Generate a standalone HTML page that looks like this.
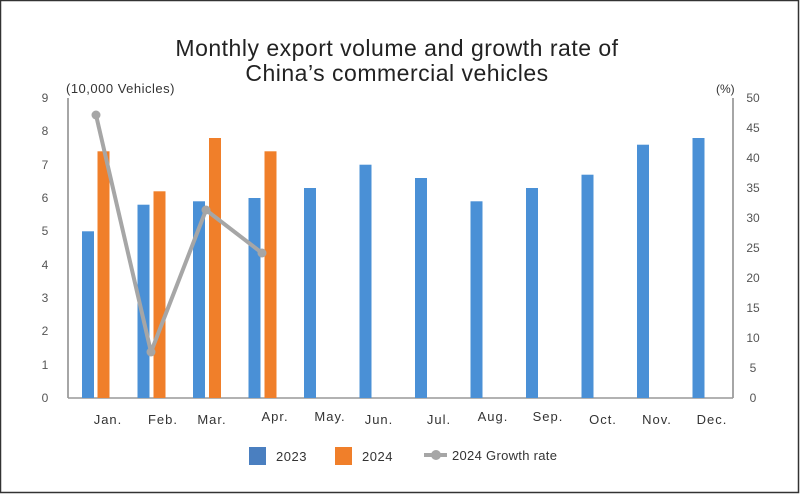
<!DOCTYPE html>
<html><head><meta charset="utf-8"><style>
html,body{margin:0;padding:0;background:#fff}
svg{display:block}
text{font-family:"Liberation Sans",sans-serif}
</style></head><body>
<svg width="800" height="494" viewBox="0 0 800 494">
<rect x="0.5" y="0.5" width="798" height="492" fill="#fff" stroke="#333" stroke-width="1.5"/>
<text x="397" y="56" font-size="23" text-anchor="middle" fill="#222" letter-spacing="0.5">Monthly export volume and growth rate of</text>
<text x="397" y="81" font-size="23" text-anchor="middle" fill="#222" letter-spacing="0.5">China’s commercial vehicles</text>
<text x="66" y="93" font-size="13" fill="#333" letter-spacing="0.5">(10,000 Vehicles)</text>
<text x="716" y="93" font-size="12" fill="#333">(%)</text>
<g font-size="12" fill="#555" text-anchor="middle">
<text x="45" y="102">9</text><text x="45" y="135">8</text><text x="45" y="169">7</text><text x="45" y="202">6</text><text x="45" y="235">5</text><text x="45" y="269">4</text><text x="45" y="302">3</text><text x="45" y="335">2</text><text x="45" y="369">1</text><text x="45" y="402">0</text>
</g>
<g font-size="12" fill="#555" text-anchor="middle">
<text x="753" y="102">50</text><text x="753" y="132">45</text><text x="753" y="162">40</text><text x="753" y="192">35</text><text x="753" y="222">30</text><text x="753" y="252">25</text><text x="753" y="282">20</text><text x="753" y="312">15</text><text x="753" y="342">10</text><text x="753" y="372">5</text><text x="753" y="402">0</text>
</g>
<line x1="68" y1="98" x2="68" y2="398" stroke="#888" stroke-width="1.5"/>
<line x1="733" y1="98" x2="733" y2="398" stroke="#888" stroke-width="1.5"/>
<line x1="68" y1="398" x2="733" y2="398" stroke="#999" stroke-width="1.5"/>
<g fill="#4a90d6">
<rect x="82" y="231.3" width="12" height="166.7"/>
<rect x="137.5" y="204.7" width="12" height="193.3"/>
<rect x="193" y="201.3" width="12" height="196.7"/>
<rect x="248.5" y="198" width="12" height="200"/>
<rect x="304" y="188" width="12" height="210"/>
<rect x="359.5" y="164.7" width="12" height="233.3"/>
<rect x="415" y="178" width="12" height="220"/>
<rect x="470.5" y="201.3" width="12" height="196.7"/>
<rect x="526" y="188" width="12" height="210"/>
<rect x="581.5" y="174.7" width="12" height="223.3"/>
<rect x="637" y="144.7" width="12" height="253.3"/>
<rect x="692.5" y="138" width="12" height="260"/>
</g>
<g fill="#f07f2a">
<rect x="97.5" y="151.3" width="12" height="246.7"/>
<rect x="153.5" y="191.3" width="12" height="206.7"/>
<rect x="209" y="138" width="12" height="260"/>
<rect x="264.5" y="151.3" width="12" height="246.7"/>
</g>
<polyline points="96,115 151,352 206,210 262,253" fill="none" stroke="#a6a6a6" stroke-width="4" stroke-linejoin="round"/>
<g fill="#a6a6a6"><circle cx="96" cy="115" r="4.5"/><circle cx="151" cy="352" r="4.5"/><circle cx="206" cy="210" r="4.5"/><circle cx="262" cy="253" r="4.5"/></g>
<g font-size="13" fill="#333" text-anchor="middle" letter-spacing="1">
<text x="108" y="424">Jan.</text><text x="163" y="424">Feb.</text><text x="212" y="424">Mar.</text><text x="275" y="421">Apr.</text><text x="330" y="421">May.</text><text x="379" y="424">Jun.</text><text x="439" y="424">Jul.</text><text x="493" y="421">Aug.</text><text x="548" y="421">Sep.</text><text x="603" y="424">Oct.</text><text x="657" y="424">Nov.</text><text x="712" y="424">Dec.</text>
</g>
<rect x="249" y="447" width="17" height="18" fill="#4a7fc0"/>
<text x="276" y="461" font-size="13" fill="#333" letter-spacing="0.5">2023</text>
<rect x="335" y="447" width="17" height="18" fill="#f07f2a"/>
<text x="362" y="461" font-size="13" fill="#333" letter-spacing="0.5">2024</text>
<line x1="424" y1="455" x2="447" y2="455" stroke="#a6a6a6" stroke-width="4"/>
<circle cx="436" cy="455" r="5" fill="#a6a6a6"/>
<text x="452" y="460" font-size="13" fill="#333" letter-spacing="0.3">2024 Growth rate</text>
</svg>
</body></html>
